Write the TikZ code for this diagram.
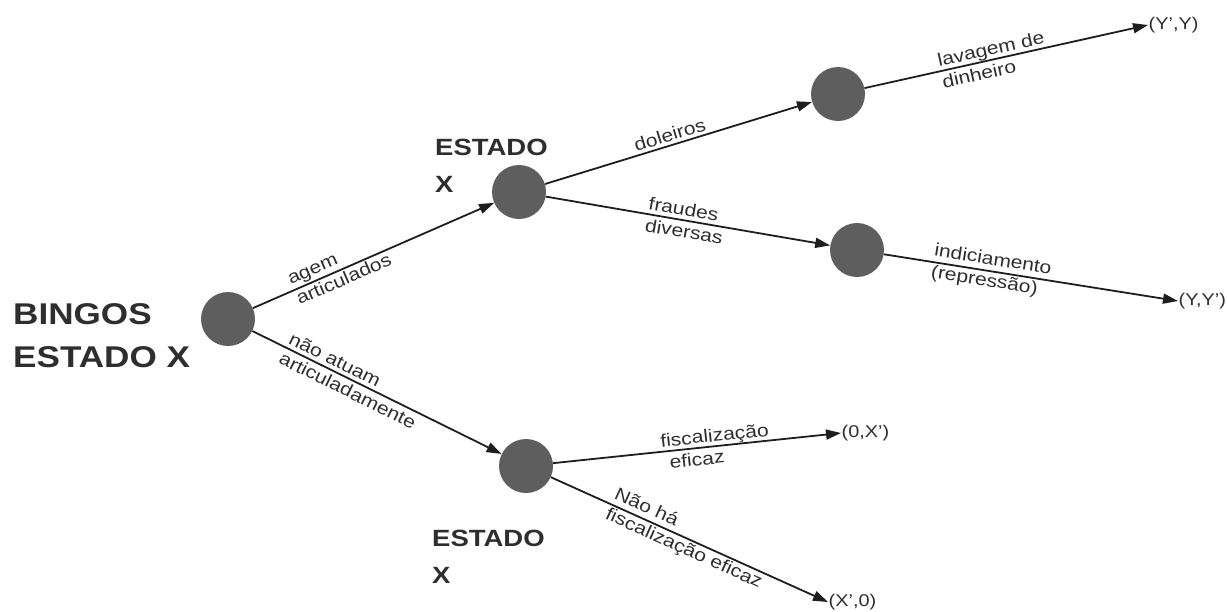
\documentclass[tikz,border=0pt]{standalone}
\usepackage{fontspec}
\setmainfont[FakeStretch=1.17]{Liberation Sans}
\usetikzlibrary{arrows.meta}
\definecolor{circ}{HTML}{5E5E5E}
\definecolor{txt}{HTML}{2E2E2E}
\definecolor{ln}{HTML}{1E1E1E}
\begin{document}
\begin{tikzpicture}[x=1pt,y=-1pt,
  st/.style={circle, fill=circ, minimum size=54pt, inner sep=0pt},
  arr/.style={draw=ln, line width=1.8pt, -{Triangle[length=15pt,width=10pt]}},
  elab/.style={sloped, font=\fontsize{18}{22}\selectfont, text=txt, align=left, inner sep=1pt, anchor=west},
  term/.style={font=\fontsize{17}{20}\selectfont, text=txt, anchor=west, inner sep=0.5pt},
  bigl/.style={font=\bfseries\fontsize{30}{43}\selectfont, text=txt, align=left, anchor=north west, inner sep=0pt},
  mid/.style={font=\bfseries\fontsize{23.5}{37}\selectfont, text=txt, align=left, anchor=north west, inner sep=0pt}]
\useasboundingbox (0,0) rectangle (1227,611);
\node[st] (r) at (228,319) {};
\node[st] (u) at (519,192) {};
\node[st] (l) at (526,466) {};
\node[st] (d) at (838,94) {};
\node[st] (f) at (857,250) {};
\node[term] (t1) at (1148,25) {(Y',Y)};
\node[term] (t2) at (1178,301) {(Y,Y')};
\node[term] (t3) at (841,433) {(0,X')};
\node[term] (t4) at (828,602) {(X',0)};
\node[bigl] (bl) at (13,303) {BINGOS\\ESTADO X};
\node[mid] (e1) at (435,139) {ESTADO\\X};
\node[mid] (e2) at (432,530) {ESTADO\\X};
\draw[arr] (r) -- node[elab, pos=0.16] {agem\\articulados} (u);
\draw[arr] (r) -- node[elab, pos=0.126] {não atuam\\articuladamente} (l);
\draw[arr] (u) -- node[elab, pos=0.34, anchor=south west, yshift=2pt] {doleiros} (d);
\draw[arr] (u) -- node[elab, pos=0.35] {fraudes\\diversas} (f);
\draw[arr] (d) -- node[elab, pos=0.26] {lavagem de\\dinheiro} (t1.west);
\draw[arr] (f) -- node[elab, pos=0.16] {indiciamento\\(repressão)} (t2.west);
\draw[arr] (l) -- node[elab, pos=0.37] {fiscalização\\\hspace*{7pt}eficaz} (t3.west);
\draw[arr] (l) -- node[elab, pos=0.21] {Não há\\fiscalização eficaz} (t4.west);
\end{tikzpicture}
\end{document}
